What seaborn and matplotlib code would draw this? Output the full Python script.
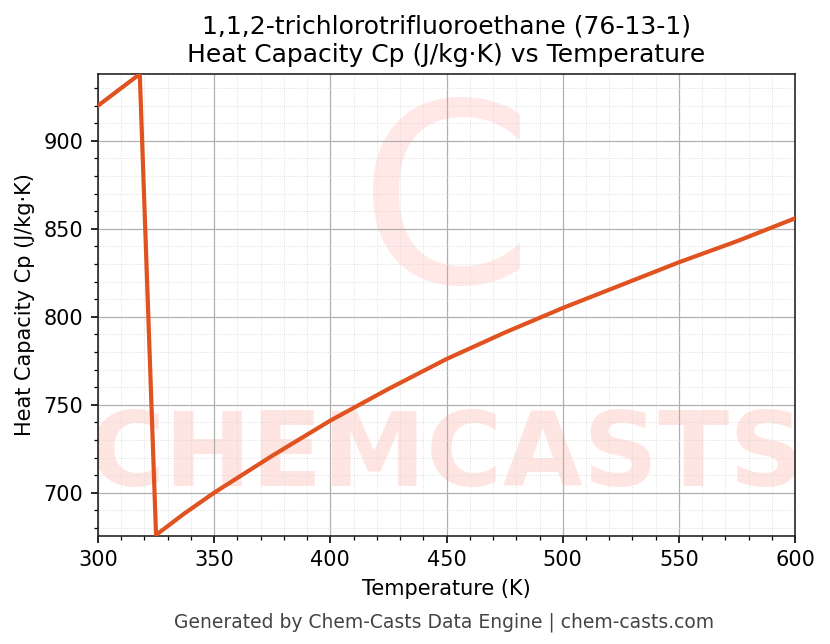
import matplotlib
matplotlib.use("Agg")
import matplotlib.pyplot as plt
import seaborn as sns
import pandas as pd
from matplotlib.ticker import AutoMinorLocator

# values
temperature = [300, 318, 325, 337, 350, 375, 400, 425, 450, 475, 500, 525, 550, 575, 600]
heat_capacity = [920, 938, 676, 688, 700, 721, 741, 759, 776, 791, 805, 818, 831, 843, 856]

df = pd.DataFrame({"T": temperature, "Cp": heat_capacity})

sns.set_style("ticks")
plt.rcParams['font.family'] = ['DejaVu Sans']
plt.rcParams['text.color'] = 'black'
plt.rcParams['axes.labelcolor'] = 'black'
plt.rcParams['xtick.color'] = 'black'
plt.rcParams['ytick.color'] = 'black'

fig, ax = plt.subplots(figsize=(830 / 150, 644 / 150), dpi=150)

# watermark
ax.text(0.5, 0.17, "CHEMCASTS", transform=ax.transAxes, ha="center", va="center",
        fontsize=50, fontweight="bold", color="#ff9a8a", alpha=0.25, zorder=0,
        clip_on=True)
ax.text(0.5, 0.7, "C", transform=ax.transAxes, ha="center", va="center",
        fontsize=120, color="#ff9a8a", alpha=0.22, zorder=0, clip_on=True)

sns.lineplot(data=df, x="T", y="Cp", color="#e0521f", linewidth=2, ax=ax, zorder=3)

ax.set_xlim(300, 600)
ax.set_ylim(675.5, 938)
ax.xaxis.set_minor_locator(AutoMinorLocator(5))
ax.yaxis.set_minor_locator(AutoMinorLocator(5))
ax.grid(which="major", color="#b0b0b0", linewidth=0.6)
ax.grid(which="minor", color="#d8d8d8", linewidth=0.4, linestyle=":")
ax.set_xlabel("Temperature (K)")
ax.set_ylabel("Heat Capacity Cp (J/kg·K)")
ax.set_title("1,1,2-trichlorotrifluoroethane (76-13-1)\nHeat Capacity Cp (J/kg·K) vs Temperature", fontsize=12)
fig.text(0.535, 0.025, "Generated by Chem-Casts Data Engine | chem-casts.com",
         ha="center", fontsize=9, color="#444444")

fig.subplots_adjust(left=0.118, right=0.958, top=0.885, bottom=0.168)
fig.savefig("out.png", dpi=150)
